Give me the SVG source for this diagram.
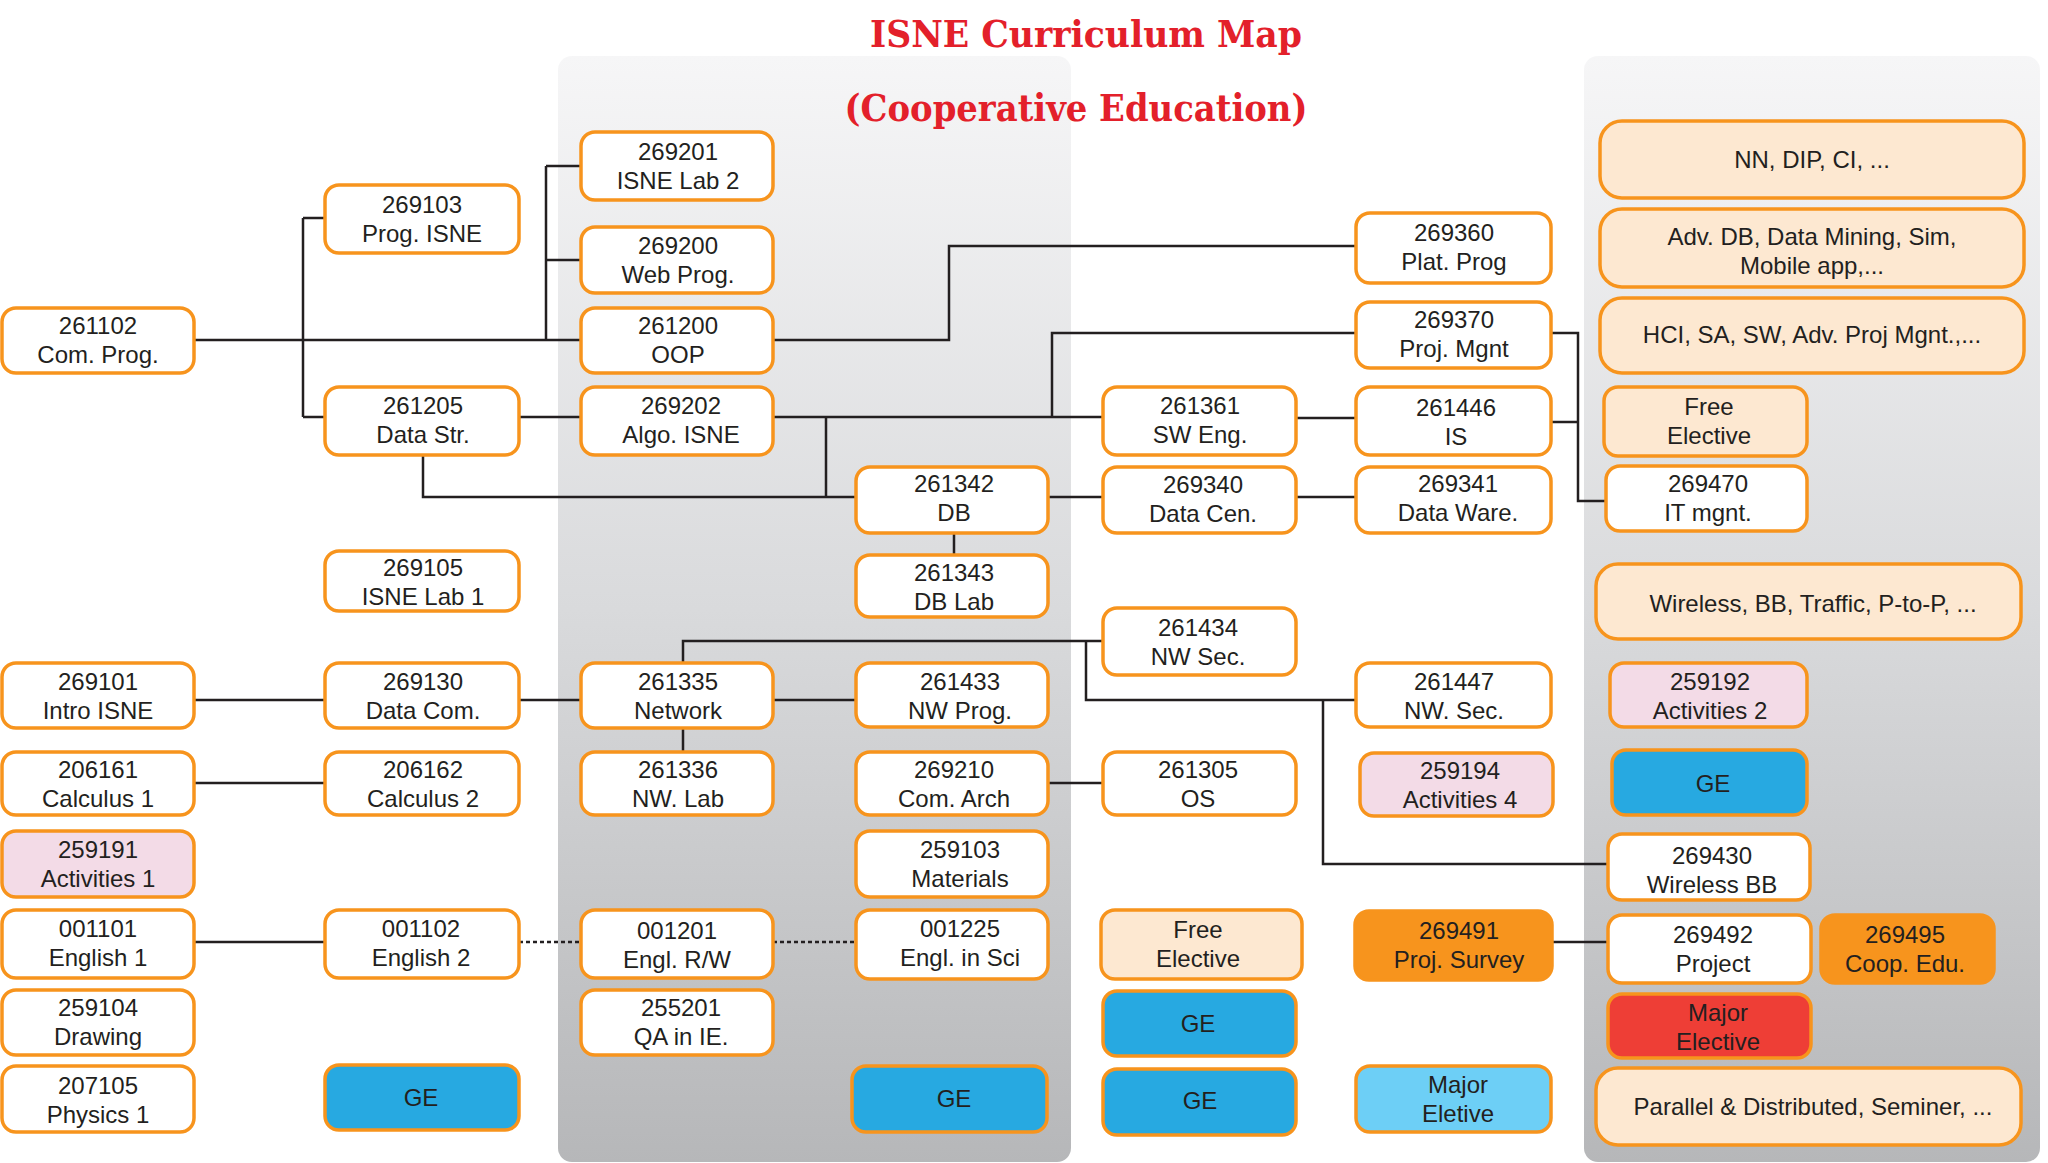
<svg xmlns="http://www.w3.org/2000/svg" width="2048" height="1163" viewBox="0 0 2048 1163">
<defs>
<linearGradient id="colg" x1="0" y1="0" x2="0" y2="1">
<stop offset="0" stop-color="#f6f6f7"/>
<stop offset="0.5" stop-color="#d9dadc"/>
<stop offset="1" stop-color="#b6b7b9"/>
</linearGradient>
<style>
.b{stroke:#f7941d;stroke-width:3.5}
.w{fill:#ffffff}
.p{fill:#f3dbe7}
.k{fill:#fde8d1}
.g{fill:#27a9e1}
.lb{fill:#6dcff6}
.o{fill:#f7941d}
.r{fill:#ee3e36}
text.t{font-family:"Liberation Sans",Arial,sans-serif;font-size:24px;fill:#231f20;text-anchor:middle}
.c{stroke:#231f20;stroke-width:2.5;fill:none}
.d{stroke:#231f20;stroke-width:2.5;fill:none;stroke-dasharray:4 3}
.title{font-family:"DejaVu Serif Condensed","DejaVu Serif",serif;font-weight:bold;font-stretch:condensed;fill:#e3202a;text-anchor:middle}
</style>
</defs>
<rect width="2048" height="1163" fill="#ffffff"/>
<g id="columns">
<rect x="558" y="56" width="513" height="1106" rx="14" fill="url(#colg)"/>
<rect x="1584" y="56" width="456" height="1106" rx="14" fill="url(#colg)"/>
</g>
<g id="title">
<text class="title" x="1086" y="47" font-size="37" textLength="432" lengthAdjust="spacingAndGlyphs">ISNE  Curriculum  Map</text>
<text class="title" x="1076" y="121" font-size="38" textLength="463" lengthAdjust="spacingAndGlyphs">(Cooperative  Education)</text>
</g>
<g id="connectors">
<path class="c" d="M194 340H580M303 218V417M303 218H325M303 417H325M546 166V340M546 166H581M546 260H581"/>
<path class="c" d="M773 340H949V246H1356"/>
<path class="c" d="M519 417H581M773 417H1103M1052 417V333H1356M826 417V497"/>
<path class="c" d="M423 455V497H856M1048 497H1103M1296 497H1356M954 533V555"/>
<path class="c" d="M1295 418H1356M1551 422H1578M1551 333H1578V501H1606"/>
<path class="c" d="M683 663V641H1103M1086 641V700H1356M1323 700V864H1608"/>
<path class="c" d="M194 700H325M519 700H581M773 700H856M683 728V752"/>
<path class="c" d="M194 783H325M1048 783H1103"/>
<path class="c" d="M194 942H325M1552 942H1608"/>
<path class="d" d="M519 942H581M773 942H856"/>
</g>
<g id="n269201"><rect class="b w" x="581" y="132" width="192" height="68" rx="14"/><text class="t" x="678" y="160">269201</text><text class="t" x="678" y="189">ISNE Lab 2</text></g>
<g id="n269103"><rect class="b w" x="325" y="185" width="194" height="68" rx="14"/><text class="t" x="422" y="213">269103</text><text class="t" x="422" y="242">Prog. ISNE</text></g>
<g id="n269200"><rect class="b w" x="581" y="227" width="192" height="66" rx="14"/><text class="t" x="678" y="254">269200</text><text class="t" x="678" y="283">Web Prog.</text></g>
<g id="n269360"><rect class="b w" x="1356" y="213" width="195" height="70" rx="14"/><text class="t" x="1454" y="241">269360</text><text class="t" x="1454" y="270">Plat. Prog</text></g>
<g id="nNN"><rect class="b k" x="1600" y="121" width="424" height="77" rx="22"/><text class="t" x="1812" y="168">NN, DIP, CI, ...</text></g>
<g id="nAdvDB"><rect class="b k" x="1600" y="209" width="424" height="78" rx="22"/><text class="t" x="1812" y="245">Adv. DB, Data Mining, Sim,</text><text class="t" x="1812" y="274">Mobile app,...</text></g>
<g id="nHCI"><rect class="b k" x="1600" y="298" width="424" height="75" rx="22"/><text class="t" x="1812" y="343">HCI, SA, SW, Adv. Proj Mgnt.,...</text></g>
<g id="n261102"><rect class="b w" x="2" y="308" width="192" height="65" rx="14"/><text class="t" x="98" y="334">261102</text><text class="t" x="98" y="363">Com. Prog.</text></g>
<g id="n261200"><rect class="b w" x="581" y="308" width="192" height="65" rx="14"/><text class="t" x="678" y="334">261200</text><text class="t" x="678" y="363">OOP</text></g>
<g id="n269370"><rect class="b w" x="1356" y="302" width="195" height="66" rx="14"/><text class="t" x="1454" y="328">269370</text><text class="t" x="1454" y="357">Proj. Mgnt</text></g>
<g id="n261205"><rect class="b w" x="325" y="387" width="194" height="68" rx="14"/><text class="t" x="423" y="414">261205</text><text class="t" x="423" y="443">Data Str.</text></g>
<g id="n269202"><rect class="b w" x="581" y="387" width="192" height="68" rx="14"/><text class="t" x="681" y="414">269202</text><text class="t" x="681" y="443">Algo. ISNE</text></g>
<g id="n261361"><rect class="b w" x="1103" y="387" width="193" height="68" rx="14"/><text class="t" x="1200" y="414">261361</text><text class="t" x="1200" y="443">SW Eng.</text></g>
<g id="n261446"><rect class="b w" x="1356" y="387" width="195" height="68" rx="14"/><text class="t" x="1456" y="416">261446</text><text class="t" x="1456" y="445">IS</text></g>
<g id="nFree1"><rect class="b k" x="1604" y="387" width="203" height="69" rx="14"/><text class="t" x="1709" y="415">Free</text><text class="t" x="1709" y="444">Elective</text></g>
<g id="n261342"><rect class="b w" x="856" y="467" width="192" height="66" rx="14"/><text class="t" x="954" y="492">261342</text><text class="t" x="954" y="521">DB</text></g>
<g id="n269340"><rect class="b w" x="1103" y="467" width="193" height="66" rx="14"/><text class="t" x="1203" y="493">269340</text><text class="t" x="1203" y="522">Data Cen.</text></g>
<g id="n269341"><rect class="b w" x="1356" y="467" width="195" height="66" rx="14"/><text class="t" x="1458" y="492">269341</text><text class="t" x="1458" y="521">Data Ware.</text></g>
<g id="n269470"><rect class="b w" x="1606" y="466" width="201" height="65" rx="14"/><text class="t" x="1708" y="492">269470</text><text class="t" x="1708" y="521">IT mgnt.</text></g>
<g id="n269105"><rect class="b w" x="325" y="551" width="194" height="60" rx="14"/><text class="t" x="423" y="576">269105</text><text class="t" x="423" y="605">ISNE Lab 1</text></g>
<g id="n261343"><rect class="b w" x="856" y="555" width="192" height="62" rx="14"/><text class="t" x="954" y="581">261343</text><text class="t" x="954" y="610">DB Lab</text></g>
<g id="nWireless"><rect class="b k" x="1596" y="564" width="425" height="75" rx="22"/><text class="t" x="1813" y="612">Wireless, BB, Traffic, P-to-P, ...</text></g>
<g id="n261434"><rect class="b w" x="1103" y="608" width="193" height="67" rx="14"/><text class="t" x="1198" y="636">261434</text><text class="t" x="1198" y="665">NW Sec.</text></g>
<g id="n269101"><rect class="b w" x="2" y="663" width="192" height="65" rx="14"/><text class="t" x="98" y="690">269101</text><text class="t" x="98" y="719">Intro ISNE</text></g>
<g id="n269130"><rect class="b w" x="325" y="663" width="194" height="65" rx="14"/><text class="t" x="423" y="690">269130</text><text class="t" x="423" y="719">Data Com.</text></g>
<g id="n261335"><rect class="b w" x="581" y="663" width="192" height="65" rx="14"/><text class="t" x="678" y="690">261335</text><text class="t" x="678" y="719">Network</text></g>
<g id="n261433"><rect class="b w" x="856" y="663" width="192" height="64" rx="14"/><text class="t" x="960" y="690">261433</text><text class="t" x="960" y="719">NW Prog.</text></g>
<g id="n261447"><rect class="b w" x="1356" y="663" width="195" height="64" rx="14"/><text class="t" x="1454" y="690">261447</text><text class="t" x="1454" y="719">NW. Sec.</text></g>
<g id="n259192"><rect class="b p" x="1610" y="663" width="197" height="64" rx="14"/><text class="t" x="1710" y="690">259192</text><text class="t" x="1710" y="719">Activities 2</text></g>
<g id="n206161"><rect class="b w" x="2" y="752" width="192" height="63" rx="14"/><text class="t" x="98" y="778">206161</text><text class="t" x="98" y="807">Calculus 1</text></g>
<g id="n206162"><rect class="b w" x="325" y="752" width="194" height="63" rx="14"/><text class="t" x="423" y="778">206162</text><text class="t" x="423" y="807">Calculus 2</text></g>
<g id="n261336"><rect class="b w" x="581" y="752" width="192" height="63" rx="14"/><text class="t" x="678" y="778">261336</text><text class="t" x="678" y="807">NW. Lab</text></g>
<g id="n269210"><rect class="b w" x="856" y="752" width="192" height="63" rx="14"/><text class="t" x="954" y="778">269210</text><text class="t" x="954" y="807">Com. Arch</text></g>
<g id="n261305"><rect class="b w" x="1103" y="752" width="193" height="63" rx="14"/><text class="t" x="1198" y="778">261305</text><text class="t" x="1198" y="807">OS</text></g>
<g id="n259194"><rect class="b p" x="1360" y="753" width="193" height="63" rx="14"/><text class="t" x="1460" y="779">259194</text><text class="t" x="1460" y="808">Activities 4</text></g>
<g id="nGE1"><rect class="b g" x="1612" y="750" width="195" height="65" rx="14"/><text class="t" x="1713" y="792">GE</text></g>
<g id="n259191"><rect class="b p" x="2" y="831" width="192" height="66" rx="14"/><text class="t" x="98" y="858">259191</text><text class="t" x="98" y="887">Activities 1</text></g>
<g id="n259103"><rect class="b w" x="856" y="831" width="192" height="66" rx="14"/><text class="t" x="960" y="858">259103</text><text class="t" x="960" y="887">Materials</text></g>
<g id="n269430"><rect class="b w" x="1608" y="834" width="202" height="66" rx="14"/><text class="t" x="1712" y="864">269430</text><text class="t" x="1712" y="893">Wireless BB</text></g>
<g id="n001101"><rect class="b w" x="2" y="910" width="192" height="68" rx="14"/><text class="t" x="98" y="937">001101</text><text class="t" x="98" y="966">English 1</text></g>
<g id="n001102"><rect class="b w" x="325" y="910" width="194" height="68" rx="14"/><text class="t" x="421" y="937">001102</text><text class="t" x="421" y="966">English 2</text></g>
<g id="n001201"><rect class="b w" x="581" y="910" width="192" height="68" rx="14"/><text class="t" x="677" y="939">001201</text><text class="t" x="677" y="968">Engl. R/W</text></g>
<g id="n001225"><rect class="b w" x="856" y="910" width="192" height="69" rx="14"/><text class="t" x="960" y="937">001225</text><text class="t" x="960" y="966">Engl. in Sci</text></g>
<g id="nFree2"><rect class="b k" x="1101" y="910" width="201" height="69" rx="14"/><text class="t" x="1198" y="938">Free</text><text class="t" x="1198" y="967">Elective</text></g>
<g id="n269491"><rect class="b o" x="1355" y="911" width="197" height="69" rx="14"/><text class="t" x="1459" y="939">269491</text><text class="t" x="1459" y="968">Proj. Survey</text></g>
<g id="n269492"><rect class="b w" x="1608" y="915" width="203" height="68" rx="14"/><text class="t" x="1713" y="943">269492</text><text class="t" x="1713" y="972">Project</text></g>
<g id="n269495"><rect class="b o" x="1821" y="915" width="173" height="68" rx="14"/><text class="t" x="1905" y="943">269495</text><text class="t" x="1905" y="972">Coop. Edu.</text></g>
<g id="n259104"><rect class="b w" x="2" y="990" width="192" height="65" rx="14"/><text class="t" x="98" y="1016">259104</text><text class="t" x="98" y="1045">Drawing</text></g>
<g id="n255201"><rect class="b w" x="581" y="990" width="192" height="65" rx="14"/><text class="t" x="681" y="1016">255201</text><text class="t" x="681" y="1045">QA in IE.</text></g>
<g id="nGE2"><rect class="b g" x="1103" y="991" width="193" height="65" rx="14"/><text class="t" x="1198" y="1032">GE</text></g>
<g id="nMajorElective"><rect class="b r" x="1608" y="994" width="203" height="64" rx="14"/><text class="t" x="1718" y="1021">Major</text><text class="t" x="1718" y="1050">Elective</text></g>
<g id="n207105"><rect class="b w" x="2" y="1066" width="192" height="66" rx="14"/><text class="t" x="98" y="1094">207105</text><text class="t" x="98" y="1123">Physics 1</text></g>
<g id="nGE3"><rect class="b g" x="325" y="1065" width="194" height="65" rx="14"/><text class="t" x="421" y="1106">GE</text></g>
<g id="nGE4"><rect class="b g" x="852" y="1066" width="195" height="66" rx="14"/><text class="t" x="954" y="1107">GE</text></g>
<g id="nGE5"><rect class="b g" x="1103" y="1069" width="193" height="66" rx="14"/><text class="t" x="1200" y="1109">GE</text></g>
<g id="nMajorEletive"><rect class="b lb" x="1356" y="1066" width="195" height="66" rx="14"/><text class="t" x="1458" y="1093">Major</text><text class="t" x="1458" y="1122">Eletive</text></g>
<g id="nParallel"><rect class="b k" x="1596" y="1068" width="425" height="77" rx="22"/><text class="t" x="1813" y="1115">Parallel &amp; Distributed, Seminer, ...</text></g>
</svg>
